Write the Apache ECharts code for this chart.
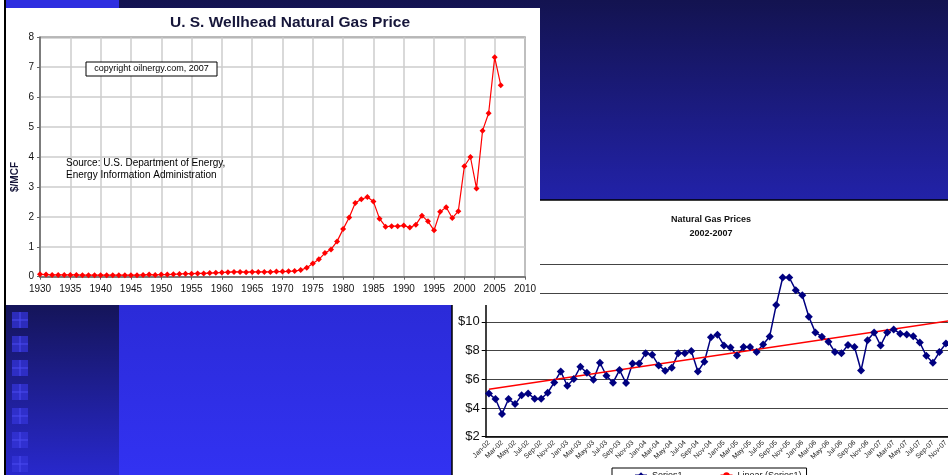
<!DOCTYPE html>
<html>
<head>
<meta charset="utf-8">
<script src="https://cdn.jsdelivr.net/npm/echarts@6/dist/echarts.min.js"></script>
<style>
html, body { margin: 0; padding: 0; width: 948px; height: 475px; overflow: hidden; background: #fff; }
#slide { position: absolute; left: 0; top: 0; width: 948px; height: 475px; }
#wellhead { position: absolute; left: 6px; top: 8px; width: 534px; height: 297px; }
</style>
</head>
<body>
<div id="slide"></div>
<div id="wellhead"></div>
<script>
// annual wellhead price, $/MCF, 1930..2006
var firstYear = 1930;
var annualPrice = [
  0.08, 0.07, 0.06, 0.06, 0.06, 0.06, 0.06, 0.05, 0.05, 0.05,
  0.05, 0.05, 0.05, 0.05, 0.05, 0.05, 0.05, 0.06, 0.07, 0.06,
  0.07, 0.07, 0.08, 0.09, 0.10, 0.10, 0.11, 0.11, 0.12, 0.13,
  0.14, 0.15, 0.16, 0.16, 0.15, 0.16, 0.16, 0.16, 0.16, 0.17,
  0.17, 0.18, 0.19, 0.22, 0.30, 0.44, 0.58, 0.79, 0.91, 1.18,
  1.59, 1.98, 2.46, 2.59, 2.66, 2.51, 1.94, 1.67, 1.69, 1.69,
  1.71, 1.64, 1.74, 2.04, 1.85, 1.55, 2.17, 2.32, 1.96, 2.19,
  3.69, 4.00, 2.95, 4.88, 5.46, 7.33, 6.40
];

// monthly prices Jan-02 .. Dec-07
var monthNames = ["Jan", "Feb", "Mar", "Apr", "May", "Jun", "Jul", "Aug", "Sep", "Oct", "Nov", "Dec"];
var monthYears = ["02", "03", "04", "05", "06", "07"];
var monthlyPrice = [
  5.01, 4.62, 3.58, 4.62, 4.27, 4.88, 5.01, 4.64, 4.64, 5.06, 5.78, 6.54,
  5.55, 6.01, 6.87, 6.45, 5.97, 7.15, 6.24, 5.76, 6.64, 5.73, 7.10, 7.10,
  7.80, 7.70, 6.96, 6.59, 6.80, 7.80, 7.80, 7.96, 6.54, 7.22, 8.93, 9.10,
  8.35, 8.21, 7.66, 8.24, 8.24, 7.89, 8.42, 8.98, 11.16, 13.08, 13.08, 12.20,
  11.85, 10.35, 9.26, 8.96, 8.61, 7.89, 7.80, 8.38, 8.24, 6.61, 8.72, 9.26,
  8.35, 9.26, 9.47, 9.17, 9.12, 9.00, 8.56, 7.63, 7.15, 7.89, 8.49, 8.70
];
// linear trend endpoints [month index, price]
var trendEnds = [[0, 5.3], [71, 10.1]];

var monthLabels = [];
monthYears.forEach(function (y) {
  monthNames.forEach(function (m) { monthLabels.push(m + "-" + y); });
});
var annualData = annualPrice.map(function (v, i) { return [firstYear + i, v]; });

var font = "'Liberation Sans', Arial, sans-serif";
var narrow = "'Liberation Sans Narrow', 'Liberation Sans', Arial, sans-serif";

// ---------- slide background + monthly chart ----------
var slide = echarts.init(document.getElementById("slide"));
var bg = [
  { type: "rect", z: -10, shape: { x: 0, y: 0, width: 948, height: 475 }, style: { fill: "#ffffff" } },
  { type: "rect", z: -10, shape: { x: 119, y: 0, width: 829, height: 475 },
    style: { fill: new echarts.graphic.LinearGradient(0, 0, 0, 1, [
      { offset: 0, color: "#131350" }, { offset: 0.42, color: "#2222a8" },
      { offset: 0.64, color: "#2b2bd8" }, { offset: 1, color: "#3232f2" }]) } },
  { type: "rect", z: -10, shape: { x: 6, y: 0, width: 113, height: 8 }, style: { fill: "#2e2ee0" } },
  { type: "rect", z: -10, shape: { x: 6, y: 300, width: 113, height: 175 },
    style: { fill: new echarts.graphic.LinearGradient(0, 0, 0, 1, [
      { offset: 0, color: "#141456" }, { offset: 1, color: "#2828cc" }]) } },
  { type: "rect", z: -10, shape: { x: 4, y: 0, width: 2, height: 475 }, style: { fill: "#000" } },
  // white panel of the monthly chart
  { type: "rect", z: -9, shape: { x: 452, y: 200, width: 500, height: 280 },
    style: { fill: "#fff", stroke: "#000", lineWidth: 1.5 } }
];
for (var k = 0; k < 7; k++) {
  var sy = 312 + k * 24;
  bg.push({ type: "rect", z: -9, shape: { x: 12, y: sy, width: 16, height: 16 },
    style: { fill: "#3434d8", opacity: 0.75 } });
  bg.push({ type: "line", z: -9, shape: { x1: 12, y1: sy + 8, x2: 28, y2: sy + 8 },
    style: { stroke: "#4a4af0", lineWidth: 1 } });
  bg.push({ type: "line", z: -9, shape: { x1: 20, y1: sy, x2: 20, y2: sy + 16 },
    style: { stroke: "#4a4af0", lineWidth: 1 } });
}

slide.setOption({
  animation: false,
  graphic: bg,
  title: {
    text: "Natural Gas Prices\n2002-2007",
    left: 706, top: 208, textAlign: "center",
    textStyle: { fontSize: 9, fontWeight: "bold", color: "#111", fontFamily: narrow, lineHeight: 14 }
  },
  legend: {
    left: 612, top: 468,
    data: ["Series1", "Linear (Series1)"],
    borderColor: "#000", borderWidth: 1, borderRadius: 0,
    padding: [3, 5, 3, 22], itemGap: 37, itemWidth: 12, itemHeight: 8,
    textStyle: { fontSize: 9, color: "#111", fontFamily: narrow }
  },
  grid: { left: 485.7, top: 264.3, width: 470, height: 172.4, outerBoundsMode: "none" },
  xAxis: {
    type: "category",
    data: monthLabels,
    boundaryGap: true,
    axisLine: { lineStyle: { color: "#000", width: 1.5 } },
    axisTick: { interval: 1, length: 4, lineStyle: { color: "#000" } },
    axisLabel: { interval: 1, rotate: 45, fontSize: 7, color: "#222", fontFamily: narrow, margin: 5 }
  },
  yAxis: {
    type: "value", min: 2, max: 14, interval: 2,
    axisLine: { show: true, lineStyle: { color: "#000", width: 1.5 } },
    axisTick: { show: true, length: 4, lineStyle: { color: "#000" } },
    axisLabel: { formatter: "${value}", fontSize: 13, color: "#111", fontFamily: narrow, margin: 6 },
    splitLine: { lineStyle: { color: "#444", width: 1 } }
  },
  series: [
    {
      name: "Series1",
      type: "line",
      data: monthlyPrice,
      symbol: "diamond",
      symbolSize: 8,
      showAllSymbol: true,
      itemStyle: { color: "#000080" },
      lineStyle: { color: "#000080", width: 1.5 }
    },
    {
      name: "Linear (Series1)",
      type: "line",
      data: trendEnds,
      symbol: "none",
      itemStyle: { color: "#ff0000" },
      lineStyle: { color: "#ff0000", width: 1.5 }
    }
  ]
});

// ---------- wellhead chart (overlaps the slide, top left) ----------
var well = echarts.init(document.getElementById("wellhead"));
well.setOption({
  animation: false,
  backgroundColor: "#fff",
  title: {
    text: "U. S. Wellhead Natural Gas Price",
    left: 279, top: 2, textAlign: "center",
    textStyle: { fontSize: 15.5, fontWeight: "bold", color: "#16163a", fontFamily: font }
  },
  graphic: [
    { type: "rect", shape: { x: 80, y: 54, width: 131, height: 14 },
      style: { fill: "#fff", stroke: "#000", lineWidth: 1 }, z: 10 },
    { type: "text", x: 145.5, y: 61, z: 11,
      style: { text: "copyright oilnergy.com, 2007", font: "9px " + font, fill: "#000", align: "center", verticalAlign: "middle" } },
    { type: "text", x: 60, y: 155, z: 11,
      style: { text: "Source: U.S. Department of Energy,", font: "10px " + font, fill: "#000", verticalAlign: "middle" } },
    { type: "text", x: 60, y: 167, z: 11,
      style: { text: "Energy Information Administration", font: "10px " + font, fill: "#000", verticalAlign: "middle" } },
    { type: "text", x: 9, y: 169, rotation: Math.PI / 2, z: 11,
      style: { text: "$/MCF", font: "bold 10px " + font, fill: "#16163a", align: "center", verticalAlign: "middle" } }
  ],
  grid: { left: 34, right: 15, top: 29.3, bottom: 28.3, show: true, borderColor: "#777", borderWidth: 1.5, outerBoundsMode: "none" },
  xAxis: {
    type: "value", min: 1930, max: 2010, interval: 5,
    axisLine: { lineStyle: { color: "#666", width: 1.5 } },
    axisTick: { show: true, length: 3, lineStyle: { color: "#666" } },
    axisLabel: { fontSize: 10, color: "#111", fontFamily: font, margin: 8, formatter: function (v) { return String(v); } },
    splitLine: { show: true, lineStyle: { color: "#cccccc", width: 1.5 } }
  },
  yAxis: {
    type: "value", min: 0, max: 8, interval: 1,
    axisLine: { show: true, lineStyle: { color: "#666", width: 1.5 } },
    axisTick: { show: true, length: 3, lineStyle: { color: "#666" } },
    axisLabel: { fontSize: 10, color: "#111", fontFamily: font, margin: 6 },
    splitLine: { show: true, lineStyle: { color: "#cccccc", width: 1.5 } }
  },
  series: [
    {
      type: "line",
      data: annualData,
      symbol: "diamond",
      symbolSize: 6,
      showAllSymbol: true,
      itemStyle: { color: "#ff0000" },
      lineStyle: { color: "#ff0000", width: 1.2 }
    }
  ]
});
</script>
</body>
</html>
